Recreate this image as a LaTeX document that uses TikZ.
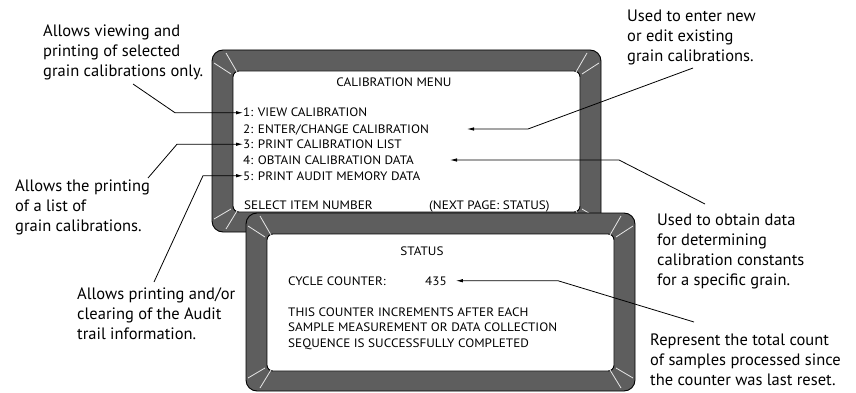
\documentclass[tikz,border=0pt]{standalone}
\usepackage{fontspec}
\setmainfont{PT Sans}
\newfontfamily\scrfont[FakeStretch=1.08]{PT Sans}
\usetikzlibrary{arrows.meta}
\definecolor{bezelgray}{HTML}{5E5E5E}
\definecolor{hlgray}{HTML}{E6E6E6}
\tikzset{
  bezel/.style={fill=bezelgray, draw=black, line width=0.9pt, rounded corners=11pt},
  screen/.style={fill=white, draw=black, line width=0.9pt, rounded corners=6pt},
  hl/.style={draw=hlgray, line width=0.8pt},
  scr/.style={inner sep=0pt, font=\scrfont\fontsize{12.2}{14}\selectfont},
  note/.style={inner sep=0pt, align=left, anchor=base west, font=\fontsize{16.5}{20}\selectfont},
  arr/.style={-{Latex[length=7pt,width=3.5pt]}, line width=0.8pt},
}
\newcommand\mybezel[4]{%
  \draw[bezel] (#1,#2) rectangle (#3,#4);
  \draw[screen] ({#1+21},{#2+21}) rectangle ({#3-21},{#4-20});
  \draw[hl] ({#1+25},{#2+22}) -- ({#1+14},{#2+3}) ({#1+19},{#2+24}) -- ({#1+2},{#2+13});
  \draw[hl] ({#3-25},{#2+22}) -- ({#3-14},{#2+3}) ({#3-19},{#2+24}) -- ({#3-2},{#2+13});
  \draw[hl] ({#1+25},{#4-21}) -- ({#1+14},{#4-3}) ({#1+19},{#4-23}) -- ({#1+2},{#4-13});
  \draw[hl] ({#3-25},{#4-21}) -- ({#3-14},{#4-3}) ({#3-19},{#4-23}) -- ({#3-2},{#4-13});
}
\begin{document}
\begin{tikzpicture}[x=1pt,y=-1pt]
\useasboundingbox (0,0) rectangle (856,393);
% bezels
\mybezel{212}{50}{601}{232}
\mybezel{246}{213}{635}{391}
% calibration menu screen
\node[scr, anchor=base] (t1) at (394,87) {CALIBRATION MENU};
\node[scr, anchor=base west] (m1) at (243,117) {1: VIEW CALIBRATION};
\node[scr, anchor=base west] (m2) at (243,133) {2: ENTER/CHANGE CALIBRATION};
\node[scr, anchor=base west] (m3) at (243,148.5) {3: PRINT CALIBRATION LIST};
\node[scr, anchor=base west] (m4) at (243,164) {4: OBTAIN CALIBRATION DATA};
\node[scr, anchor=base west] (m5) at (243,180) {5: PRINT AUDIT MEMORY DATA};
\node[scr, anchor=base west] (sel) at (244,209) {SELECT ITEM NUMBER};
\node[scr, anchor=base west] (nxt) at (429,209) {(NEXT PAGE: STATUS)};
% status screen
\node[scr, anchor=base] (t2) at (422,255) {STATUS};
\node[scr, anchor=base west] (cc) at (288,285) {CYCLE COUNTER:};
\node[scr, anchor=base west] (n435) at (425,285) {435};
\node[scr, anchor=base west] (d1) at (288,316) {THIS COUNTER INCREMENTS AFTER EACH};
\node[scr, anchor=base west] (d2) at (288,331.5) {SAMPLE MEASUREMENT OR DATA COLLECTION};
\node[scr, anchor=base west] (d3) at (288,347) {SEQUENCE IS SUCCESSFULLY COMPLETED};
% annotations (anchor = baseline of last line)
\node[note] (a1) at (43,77) {Allows viewing and\\printing of selected\\grain calibrations only.};
\node[note] (a2) at (15,231) {Allows the printing\\of a list of\\grain calibrations.};
\node[note] (a3) at (77,339) {Allows printing and/or\\clearing of the Audit\\trail information.};
\node[note] (a4) at (627,62) {Used to enter new\\or edit existing\\grain calibrations.};
\node[note] (a5) at (657,285) {Used to obtain data\\for determining\\calibration constants\\for a specific grain.};
\node[note] (a6) at (650,385) {Represent the total count\\of samples processed since\\the counter was last reset.};
% connector points
\coordinate (s1) at (133,84);  \coordinate (b1) at (175,0);
\coordinate (s3) at (148,178); \coordinate (b3) at (177,0);
\coordinate (s5) at (154,282); \coordinate (b5) at (203,0);
\coordinate (s2) at (693,68);  \coordinate (b2) at (528,129); \coordinate (e2) at (467,129);
\coordinate (s4) at (705,204); \coordinate (b4) at (619,160); \coordinate (e4) at (450,160);
\coordinate (s6) at (694,322); \coordinate (b6) at (558,0);
% connectors
\draw[arr] (s1) -- (m1.west -| b1) -- (m1.west);
\draw[arr] (s3) -- (m3.west -| b3) -- (m3.west);
\draw[arr] (s5) -- (m5.west -| b5) -- (m5.west);
\draw[arr] (s2) -- (b2) -- (e2);
\draw[arr] (s4) -- (b4) -- (e4);
\draw[arr, shorten >=9pt] (s6) -- (n435.east -| b6) -- (n435.east);
\end{tikzpicture}
\end{document}
